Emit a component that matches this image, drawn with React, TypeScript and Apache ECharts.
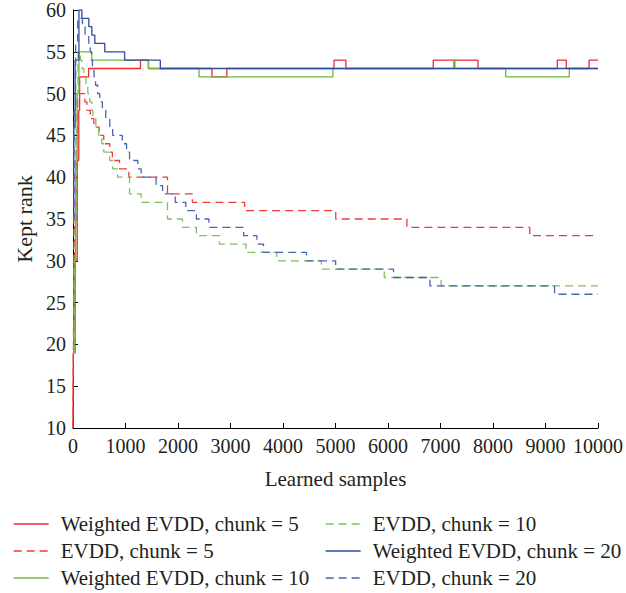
import React, { useEffect, useRef } from "react";
import * as echarts from "echarts";

// Series names, in legend order (column by column)
const seriesNames = [
  "Weighted EVDD, chunk = 5",
  "EVDD, chunk = 5",
  "Weighted EVDD, chunk = 10",
  "EVDD, chunk = 10",
  "Weighted EVDD, chunk = 20",
  "EVDD, chunk = 20",
];

// [learned samples, kept rank]; each value holds until the next sample count
const weighted5: [number, number][] = [
  [0, 10], [5, 19], [40, 30], [80, 42], [110, 48], [126, 52], [297, 53],
  [1285, 54], [1437, 53], [2647, 52], [2930, 53], [4972, 54], [5198, 53],
  [6862, 54], [7713, 53], [9225, 54], [9395, 53], [9830, 54], [10000, 54],
];

const evdd5: [number, number][] = [
  [0, 10], [10, 22], [30, 35], [60, 45], [90, 50], [227, 49], [265, 48],
  [330, 47], [397, 46], [497, 45], [586, 44], [700, 43], [750, 42],
  [888, 41], [1064, 40], [1800, 38], [2274, 37], [3270, 36], [5005, 35],
  [6360, 34], [8700, 33], [10000, 33],
];

const weighted10: [number, number][] = [
  [0, 19], [20, 30], [50, 42], [80, 50], [113, 55], [359, 54], [1437, 53],
  [2400, 52], [4950, 53], [7250, 54], [7275, 53], [8242, 52], [9452, 53],
  [10000, 53],
];

const evdd10: [number, number][] = [
  [0, 19], [20, 35], [60, 50], [95, 55], [140, 54], [170, 53], [208, 52],
  [246, 51], [283, 50], [321, 49], [359, 48], [378, 47], [435, 46],
  [491, 45], [548, 44], [586, 43], [699, 42], [756, 41], [850, 40],
  [1077, 38], [1298, 37], [1800, 35], [2085, 34], [2350, 33], [2791, 32],
  [3295, 31], [3881, 30], [4731, 29], [5929, 28], [7012, 27], [10000, 27],
];

const weighted20: [number, number][] = [
  [0, 35], [15, 46], [40, 54], [113, 60], [170, 59], [302, 58], [359, 57],
  [416, 56], [605, 55], [983, 54], [1663, 53], [10000, 53],
];

const evdd20: [number, number][] = [
  [0, 35], [20, 48], [50, 56], [90, 59], [180, 58], [230, 57], [300, 56],
  [330, 55], [350, 54], [370, 53], [400, 52], [430, 51], [470, 50],
  [510, 49], [560, 48], [624, 47], [700, 46], [756, 45], [939, 44],
  [1020, 43], [1077, 42], [1235, 41], [1298, 40], [1582, 39], [1707, 38],
  [1947, 37], [2149, 36], [2350, 35], [2590, 34], [3251, 33], [3503, 32],
  [3629, 31], [4448, 30], [5003, 29], [6105, 28], [6799, 27], [9173, 26],
  [10000, 26],
];

const seriesData = [weighted5, evdd5, weighted10, evdd10, weighted20, evdd20];
const seriesColors = ["#ec2a2f", "#ef3b3b", "#6cb83c", "#7cc25a", "#2d4c9c", "#4565b0"];
const seriesDashed = [false, true, false, true, false, true];

// Axis ranges and tick steps
const xRange = [0, 10000];
const xStep = 1000;
const yRange = [10, 60];
const yStep = 5;

const FONT = "'Liberation Serif', 'DejaVu Serif', serif";
const INK = "#231f20";

export default function App() {
  const ref = useRef<HTMLDivElement>(null);

  useEffect(() => {
    if (!ref.current) return;
    const chart = echarts.init(ref.current, undefined, { renderer: "svg" });

    const legendCommon = {
      orient: "vertical" as const,
      padding: 0,
      itemWidth: 35,
      itemHeight: 14,
      itemGap: 5,
      lineStyle: { width: 1.3 },
      itemStyle: { opacity: 0 },
      textStyle: {
        fontFamily: FONT,
        fontSize: 21,
        color: INK,
        lineHeight: 22,
        padding: [0, 0, 0, 7],
      },
    };

    chart.setOption({
      animation: false,
      backgroundColor: "#ffffff",
      grid: { left: 73, right: 24, top: 10, bottom: 165 },
      legend: [
        { ...legendCommon, left: 13, top: 513, data: seriesNames.slice(0, 3) },
        { ...legendCommon, left: 325, top: 513, data: seriesNames.slice(3, 6) },
      ],
      xAxis: {
        type: "value",
        min: xRange[0],
        max: xRange[1],
        interval: xStep,
        name: "Learned samples",
        nameLocation: "middle",
        nameGap: 40,
        nameTextStyle: { fontFamily: FONT, fontSize: 21, color: INK },
        axisLine: { lineStyle: { color: "#000", width: 1 } },
        axisTick: { inside: true, length: 5, lineStyle: { color: "#000" } },
        axisLabel: {
          fontFamily: FONT,
          fontSize: 20,
          color: INK,
          margin: 8,
          formatter: (v: number) => String(v),
        },
        splitLine: { show: false },
      },
      yAxis: {
        type: "value",
        min: yRange[0],
        max: yRange[1],
        interval: yStep,
        name: "Kept rank",
        nameLocation: "middle",
        nameGap: 33,
        nameTextStyle: { fontFamily: FONT, fontSize: 22, color: INK },
        axisLine: { show: true, lineStyle: { color: "#000", width: 1 } },
        axisTick: { show: true, inside: true, length: 5, lineStyle: { color: "#000" } },
        axisLabel: { fontFamily: FONT, fontSize: 20, color: INK, margin: 7 },
        splitLine: { show: false },
      },
      series: seriesNames.map((name, i) => ({
        name,
        type: "line",
        step: "end",
        data: seriesData[i],
        symbol: "none",
        showSymbol: false,
        clip: true,
        lineStyle: {
          color: seriesColors[i],
          width: 1.3,
          type: seriesDashed[i] ? [8, 5] : "solid",
        },
        itemStyle: { color: seriesColors[i] },
        emphasis: { disabled: true },
      })),
    });

    return () => chart.dispose();
  }, []);

  return (
    <div
      ref={ref}
      style={{ position: "fixed", left: 0, top: 0, width: 626, height: 593 }}
    />
  );
}
